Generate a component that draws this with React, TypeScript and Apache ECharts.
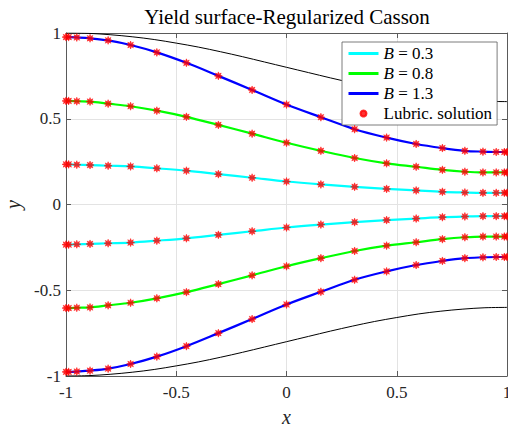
import { useEffect, useRef } from "react";
import * as echarts from "echarts";

// Chebyshev-like x nodes where the lubrication solution is shown
const xNodes = [-1, -0.988, -0.951, -0.891, -0.809, -0.707, -0.588, -0.454, -0.309, -0.156, 0, 0.156, 0.309, 0.454, 0.588, 0.707, 0.809, 0.891, 0.951, 0.988, 1];

// Upper yield surfaces
const yTopB03 = [0.234, 0.234, 0.232, 0.230, 0.226, 0.222, 0.211, 0.197, 0.177, 0.156, 0.134, 0.117, 0.103, 0.091, 0.082, 0.074, 0.070, 0.068, 0.068, 0.068, 0.068];
const yTopB08 = [0.604, 0.604, 0.602, 0.600, 0.588, 0.573, 0.547, 0.511, 0.464, 0.413, 0.360, 0.313, 0.271, 0.240, 0.220, 0.202, 0.191, 0.187, 0.187, 0.187, 0.187];
const yTopB13 = [0.976, 0.976, 0.974, 0.969, 0.957, 0.930, 0.887, 0.826, 0.750, 0.668, 0.583, 0.509, 0.439, 0.390, 0.353, 0.329, 0.313, 0.308, 0.306, 0.306, 0.306];

// Lower yield surfaces
const yBotB03 = [-0.234, -0.234, -0.232, -0.230, -0.226, -0.222, -0.211, -0.197, -0.177, -0.156, -0.134, -0.117, -0.103, -0.091, -0.082, -0.074, -0.070, -0.068, -0.068, -0.068, -0.068];
const yBotB08 = [-0.604, -0.604, -0.602, -0.600, -0.588, -0.573, -0.547, -0.511, -0.464, -0.413, -0.360, -0.313, -0.271, -0.240, -0.220, -0.202, -0.191, -0.187, -0.187, -0.187, -0.187];
const yBotB13 = [-0.976, -0.976, -0.974, -0.969, -0.957, -0.930, -0.887, -0.826, -0.750, -0.668, -0.583, -0.509, -0.439, -0.390, -0.353, -0.329, -0.313, -0.308, -0.306, -0.306, -0.306];

// Channel walls
const wallX = [-1, -0.9, -0.8, -0.7, -0.6, -0.5, -0.4, -0.3, -0.2, -0.1, 0, 0.1, 0.2, 0.3, 0.4, 0.5, 0.6, 0.7, 0.8, 0.9, 1];
const wallTop = [1.0, 0.998, 0.990, 0.978, 0.962, 0.941, 0.918, 0.891, 0.862, 0.831, 0.8, 0.769, 0.738, 0.709, 0.682, 0.659, 0.638, 0.622, 0.610, 0.602, 0.600];
const wallBot = [-1.0, -0.998, -0.990, -0.978, -0.962, -0.941, -0.918, -0.891, -0.862, -0.831, -0.8, -0.769, -0.738, -0.709, -0.682, -0.659, -0.638, -0.622, -0.610, -0.602, -0.600];

const legendNames = ["B = 0.3", "B = 0.8", "B = 1.3", "Lubric. solution"];
const axisTicks = [-1, -0.5, 0, 0.5, 1];

const FONT = "'Liberation Serif', 'Times New Roman', serif";
const AXIS_COLOR = "#262626";
const FRAME_COLOR = "#5a5a5a";

const STAR =
  "path://M1 0 L0.462 0.191 L0.707 0.707 L0.191 0.462 L0 1 L-0.191 0.462 L-0.707 0.707 L-0.462 0.191 L-1 0 L-0.462 -0.191 L-0.707 -0.707 L-0.191 -0.462 L0 -1 L0.191 -0.462 L0.707 -0.707 L0.462 -0.191 Z";

function pairs(xs: number[], ys: number[]) {
  return xs.map((x, i) => [x, ys[i]]);
}

function curve(name: string, color: string, xs: number[], ys: number[], width: number, z = 2) {
  return {
    type: "line",
    name,
    data: pairs(xs, ys),
    symbol: "none",
    smooth: 0.35,
    lineStyle: { color, width },
    itemStyle: { color },
    z,
    silent: true,
  };
}

export default function App() {
  const ref = useRef<HTMLDivElement>(null);

  useEffect(() => {
    document.body.style.margin = "0";
    document.body.style.overflow = "hidden";
    if (!ref.current) return;
    const chart = echarts.init(ref.current, undefined, { renderer: "svg" });

    const markerData = [
      ...pairs(xNodes, yTopB03),
      ...pairs(xNodes, yTopB08),
      ...pairs(xNodes, yTopB13),
      ...pairs(xNodes, yBotB03),
      ...pairs(xNodes, yBotB08),
      ...pairs(xNodes, yBotB13),
    ];

    const xMin = axisTicks[0];
    const xMax = axisTicks[axisTicks.length - 1];
    const step = axisTicks[1] - axisTicks[0];

    const baseAxis = {
      type: "value",
      min: xMin,
      max: xMax,
      interval: step,
      axisLine: { show: true, onZero: false, lineStyle: { color: FRAME_COLOR, width: 1 } },
      axisTick: { show: true, inside: true, length: 5, lineStyle: { color: FRAME_COLOR } },
    };

    const lineLegend = { itemStyle: { opacity: 0 }, lineStyle: { width: 3 } };

    chart.setOption({
      animation: false,
      backgroundColor: "#ffffff",
      grid: {
        left: 66,
        right: 1,
        top: 33,
        bottom: 51,
        containLabel: false,
        outerBoundsMode: "none",
      },
      graphic: [
        {
          type: "text",
          x: 287,
          y: 17,
          style: {
            text: "Yield surface-Regularized Casson",
            font: `21px ${FONT}`,
            fill: "#000",
            align: "center",
            verticalAlign: "middle",
          },
        },
      ],
      legend: {
        data: [
          { name: legendNames[0], ...lineLegend },
          { name: legendNames[1], ...lineLegend },
          { name: legendNames[2], ...lineLegend },
          { name: legendNames[3], icon: "circle" },
        ],
        orient: "vertical",
        left: 342,
        top: 42,
        itemWidth: 30,
        itemHeight: 6,
        itemGap: 3,
        padding: [3, 5, 3, 5],
        borderColor: FRAME_COLOR,
        borderWidth: 0.8,
        borderRadius: 0,
        backgroundColor: "#ffffff",
        selectedMode: false,
        textStyle: {
          fontFamily: FONT,
          fontSize: 17,
          lineHeight: 17,
          color: "#000",
          rich: {
            i: { fontFamily: FONT, fontSize: 17, lineHeight: 17, fontStyle: "italic", color: "#000" },
          },
        },
        formatter: (n: string) => (n.startsWith("B = ") ? `{i|B} = ${n.slice(4)}` : n),
      },
      xAxis: [
        {
          ...baseAxis,
          position: "bottom",
          axisLabel: { fontFamily: FONT, fontSize: 17, color: AXIS_COLOR, margin: 8 },
          splitLine: { show: true, lineStyle: { color: "#e3e3e3", width: 1 } },
          name: "x",
          nameLocation: "middle",
          nameGap: 31,
          nameTextStyle: { fontFamily: FONT, fontStyle: "italic", fontSize: 20, color: AXIS_COLOR },
        },
        {
          ...baseAxis,
          position: "top",
          axisLabel: { show: false },
          splitLine: { show: false },
        },
      ],
      yAxis: [
        {
          ...baseAxis,
          position: "left",
          axisLabel: { fontFamily: FONT, fontSize: 17, color: AXIS_COLOR, margin: 5 },
          splitLine: { show: true, lineStyle: { color: "#e3e3e3", width: 1 } },
          name: "y",
          nameLocation: "middle",
          nameGap: 41,
          nameRotate: 90,
          nameTextStyle: { fontFamily: FONT, fontStyle: "italic", fontSize: 20, color: AXIS_COLOR },
        },
        {
          ...baseAxis,
          position: "right",
          axisLabel: { show: false },
          splitLine: { show: false },
        },
      ],
      series: [
        curve("wallTop", "#000000", wallX, wallTop, 1, 1),
        curve("wallBot", "#000000", wallX, wallBot, 1, 1),
        curve(legendNames[0], "#00ffff", xNodes, yTopB03, 2.2),
        curve(legendNames[0], "#00ffff", xNodes, yBotB03, 2.2),
        curve(legendNames[1], "#00ff00", xNodes, yTopB08, 2.2),
        curve(legendNames[1], "#00ff00", xNodes, yBotB08, 2.2),
        curve(legendNames[2], "#0000ff", xNodes, yTopB13, 2.2),
        curve(legendNames[2], "#0000ff", xNodes, yBotB13, 2.2),
        {
          type: "scatter",
          name: legendNames[3],
          data: markerData,
          symbol: STAR,
          symbolSize: 8,
          itemStyle: { color: "#ff0000", borderColor: "#ff0000", borderWidth: 0.6 },
          z: 5,
          silent: true,
        },
      ],
    });

    return () => chart.dispose();
  }, []);

  return (
    <div
      ref={ref}
      style={{ position: "absolute", left: 0, top: 0, width: 508, height: 427 }}
    />
  );
}
